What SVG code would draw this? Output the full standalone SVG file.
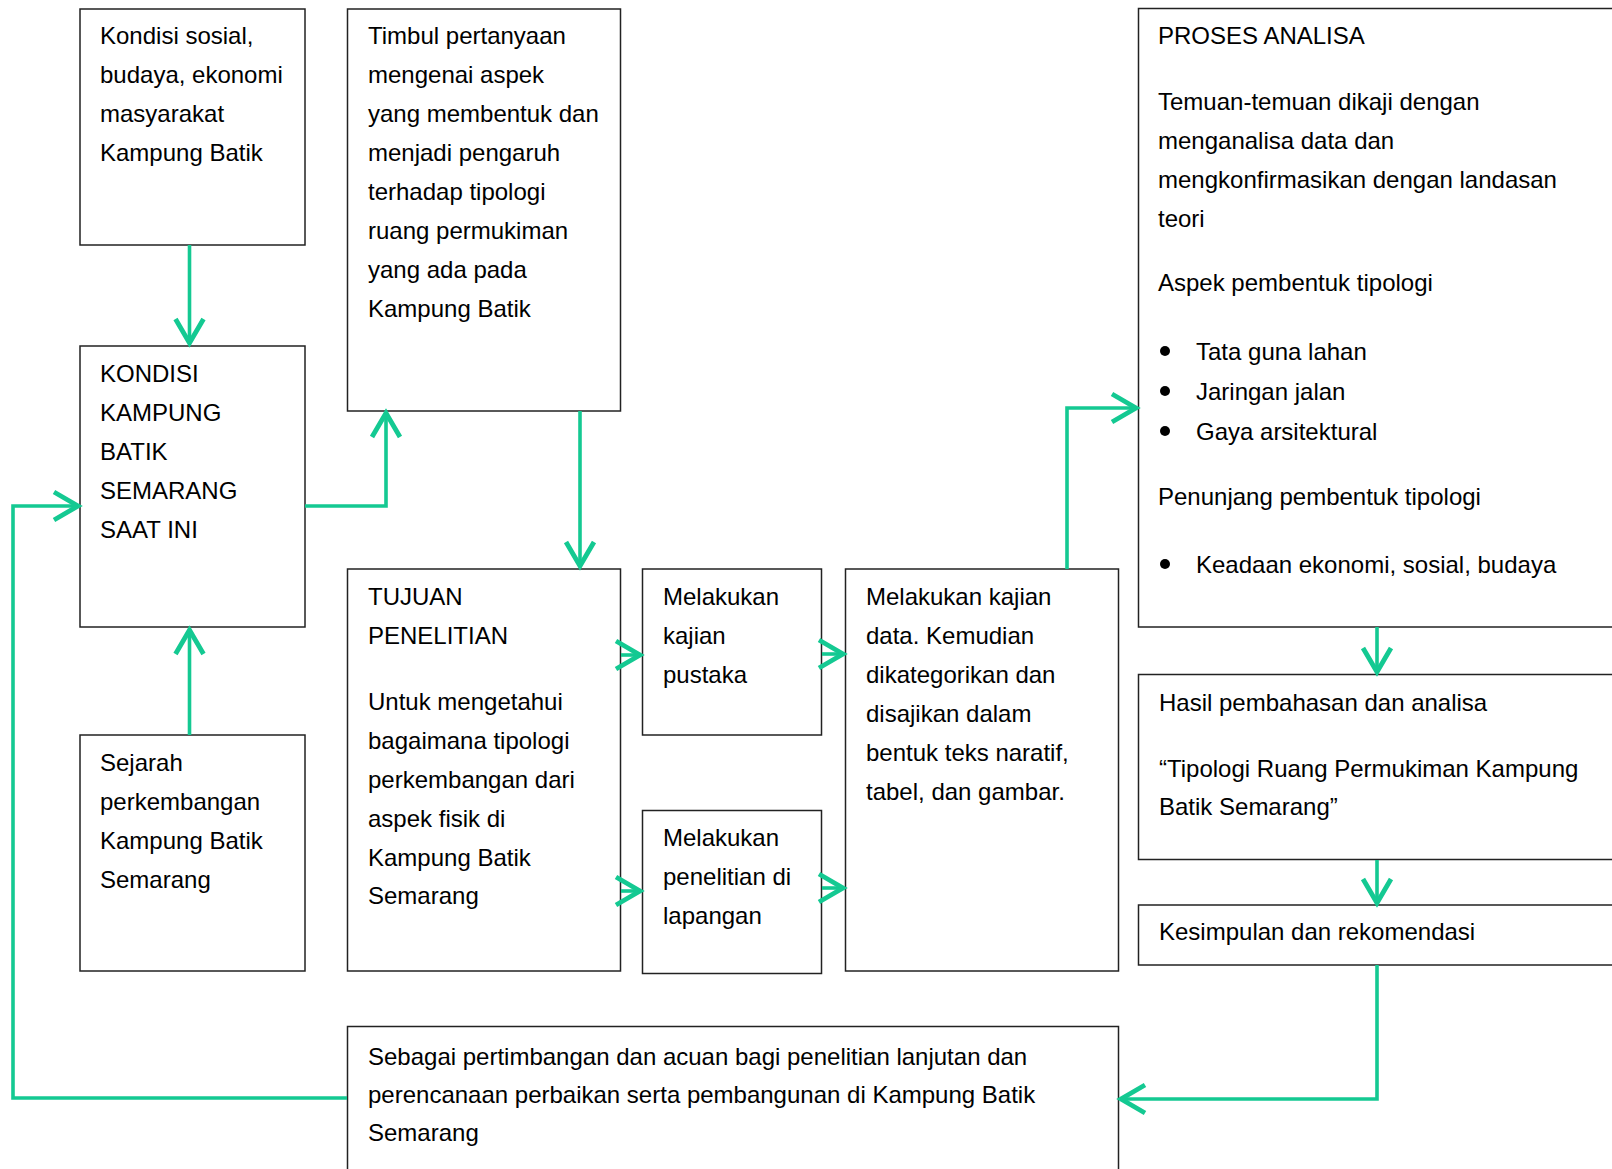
<svg xmlns="http://www.w3.org/2000/svg" width="1612" height="1169" viewBox="0 0 1612 1169">
<style>
.box{fill:#fff;stroke:#222;stroke-width:1.5}
.t{font-family:"Liberation Sans",Arial,sans-serif;font-size:24px;fill:#000}
.c{fill:none;stroke:#14c992;stroke-width:3.6}
</style>
<defs>
<marker id="ah" markerUnits="userSpaceOnUse" markerWidth="40" markerHeight="40" viewBox="-25 -15 30 30" refX="0" refY="0" orient="auto" overflow="visible">
<path d="M-18,-10.5 L0,0 L-18,10.5" fill="none" stroke="#14c992" stroke-width="3.6"/>
</marker>
</defs>
<rect width="1612" height="1169" fill="#fff"/>

<g id="n-kondisi-sosial">
<rect class="box" x="80" y="9" width="225" height="236"/>
<text class="t"><tspan x="100" y="44">Kondisi sosial,</tspan><tspan x="100" y="83">budaya, ekonomi</tspan><tspan x="100" y="122">masyarakat</tspan><tspan x="100" y="161">Kampung Batik</tspan></text>
</g>

<g id="n-timbul">
<rect class="box" x="347.5" y="9" width="273" height="402"/>
<text class="t"><tspan x="368" y="44">Timbul pertanyaan</tspan><tspan x="368" y="83">mengenai aspek</tspan><tspan x="368" y="122">yang membentuk dan</tspan><tspan x="368" y="161">menjadi pengaruh</tspan><tspan x="368" y="200">terhadap tipologi</tspan><tspan x="368" y="239">ruang permukiman</tspan><tspan x="368" y="278">yang ada pada</tspan><tspan x="368" y="317">Kampung Batik</tspan></text>
</g>

<g id="n-kondisi-kampung">
<rect class="box" x="80" y="346" width="225" height="281"/>
<text class="t"><tspan x="100" y="381.5">KONDISI</tspan><tspan x="100" y="420.5">KAMPUNG</tspan><tspan x="100" y="459.5">BATIK</tspan><tspan x="100" y="498.5">SEMARANG</tspan><tspan x="100" y="537.5">SAAT INI</tspan></text>
</g>

<g id="n-sejarah">
<rect class="box" x="80" y="735" width="225" height="236"/>
<text class="t"><tspan x="100" y="770.5">Sejarah</tspan><tspan x="100" y="809.5">perkembangan</tspan><tspan x="100" y="848.5">Kampung Batik</tspan><tspan x="100" y="887.5">Semarang</tspan></text>
</g>

<g id="n-tujuan">
<rect class="box" x="347.5" y="569" width="273" height="402"/>
<text class="t"><tspan x="368" y="605">TUJUAN</tspan><tspan x="368" y="644">PENELITIAN</tspan><tspan x="368" y="709.5">Untuk mengetahui</tspan><tspan x="368" y="748.5">bagaimana tipologi</tspan><tspan x="368" y="787.5">perkembangan dari</tspan><tspan x="368" y="826.5">aspek fisik di</tspan><tspan x="368" y="865.5">Kampung Batik</tspan><tspan x="368" y="904">Semarang</tspan></text>
</g>

<g id="n-pustaka">
<rect class="box" x="642.5" y="569" width="179" height="166"/>
<text class="t"><tspan x="663" y="605">Melakukan</tspan><tspan x="663" y="644">kajian</tspan><tspan x="663" y="683">pustaka</tspan></text>
</g>

<g id="n-lapangan">
<rect class="box" x="642.5" y="810.5" width="179" height="163"/>
<text class="t"><tspan x="663" y="846">Melakukan</tspan><tspan x="663" y="885">penelitian di</tspan><tspan x="663" y="924">lapangan</tspan></text>
</g>

<g id="n-kajian-data">
<rect class="box" x="845.5" y="569" width="273" height="402"/>
<text class="t"><tspan x="866" y="605">Melakukan kajian</tspan><tspan x="866" y="644">data. Kemudian</tspan><tspan x="866" y="683">dikategorikan dan</tspan><tspan x="866" y="722">disajikan dalam</tspan><tspan x="866" y="761">bentuk teks naratif,</tspan><tspan x="866" y="800">tabel, dan gambar.</tspan></text>
</g>

<g id="n-proses">
<rect class="box" x="1138.5" y="8.5" width="520" height="618.5"/>
<text class="t"><tspan x="1158" y="44">PROSES ANALISA</tspan><tspan x="1158" y="109.5">Temuan-temuan dikaji dengan</tspan><tspan x="1158" y="148.5">menganalisa data dan</tspan><tspan x="1158" y="187.5">mengkonfirmasikan dengan landasan</tspan><tspan x="1158" y="226.5">teori</tspan><tspan x="1158" y="291">Aspek pembentuk tipologi</tspan><tspan x="1196" y="359.5">Tata guna lahan</tspan><tspan x="1196" y="400">Jaringan jalan</tspan><tspan x="1196" y="440">Gaya arsitektural</tspan><tspan x="1158" y="505">Penunjang pembentuk tipologi</tspan><tspan x="1196" y="573">Keadaan ekonomi, sosial, budaya</tspan></text>
<circle cx="1165" cy="351" r="5"/>
<circle cx="1165" cy="391" r="5"/>
<circle cx="1165" cy="431" r="5"/>
<circle cx="1165" cy="564" r="5"/>
</g>

<g id="n-hasil">
<rect class="box" x="1138.5" y="674.5" width="520" height="185"/>
<text class="t"><tspan x="1159" y="710.5">Hasil pembahasan dan analisa</tspan><tspan x="1159" y="776.5">“Tipologi Ruang Permukiman Kampung</tspan><tspan x="1159" y="814.5">Batik Semarang”</tspan></text>
</g>

<g id="n-kesimpulan">
<rect class="box" x="1138.5" y="905" width="520" height="60"/>
<text class="t"><tspan x="1159" y="939.5">Kesimpulan dan rekomendasi</tspan></text>
</g>

<g id="n-sebagai">
<rect class="box" x="347.5" y="1026.5" width="771" height="200"/>
<text class="t"><tspan x="368" y="1064.5">Sebagai pertimbangan dan acuan bagi penelitian lanjutan dan</tspan><tspan x="368" y="1102.5">perencanaan perbaikan serta pembangunan di Kampung Batik</tspan><tspan x="368" y="1140.5">Semarang</tspan></text>
</g>

<g id="connectors">
<path class="c" marker-end="url(#ah)" d="M189.5,245 V343"/>
<path class="c" marker-end="url(#ah)" d="M189.5,735 V630"/>
<path class="c" marker-end="url(#ah)" d="M305,506 H386 V413"/>
<path class="c" marker-end="url(#ah)" d="M580,411 V566"/>
<path class="c" marker-end="url(#ah)" d="M621,655 H640"/>
<path class="c" marker-end="url(#ah)" d="M621,891 H640"/>
<path class="c" marker-end="url(#ah)" d="M822,654 H843"/>
<path class="c" marker-end="url(#ah)" d="M822,888 H843"/>
<path class="c" marker-end="url(#ah)" d="M1067,569 V408 H1136"/>
<path class="c" marker-end="url(#ah)" d="M1377,627 V672"/>
<path class="c" marker-end="url(#ah)" d="M1377,860 V903"/>
<path class="c" marker-end="url(#ah)" d="M1377,965 V1099 H1121"/>
<path class="c" marker-end="url(#ah)" d="M347,1098 H13 V506 H78"/>
</g>
</svg>
